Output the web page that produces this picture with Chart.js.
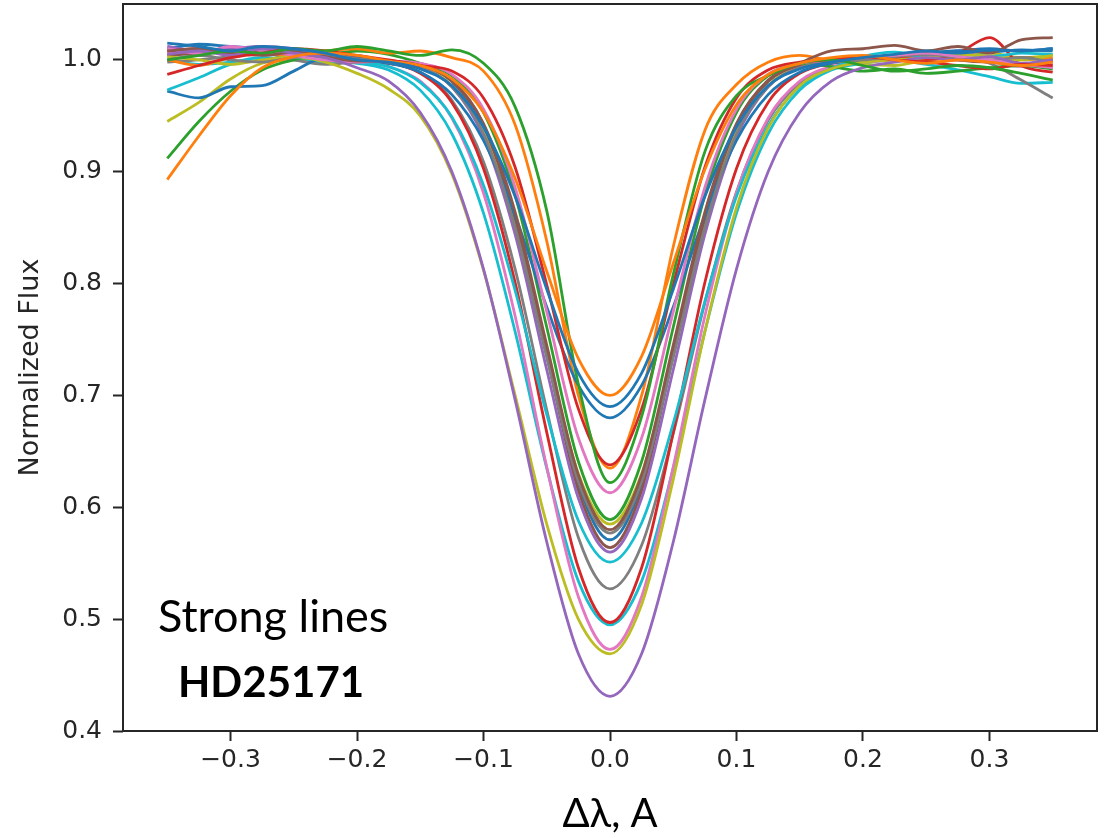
<!DOCTYPE html>
<html>
<head>
<meta charset="utf-8">
<script src="https://cdn.jsdelivr.net/npm/chart.js@4.4.1/dist/chart.umd.min.js"></script>
<style>
  html, body { margin: 0; padding: 0; background: #fff; }
  #wrap { width: 1107px; height: 838px; }
</style>
</head>
<body>
<div id="wrap"><canvas id="profiles" width="1107" height="838"></canvas></div>
<script>
// wavelength offset from line centre (A)
const deltaLambda = [-0.35,-0.325,-0.3,-0.275,-0.25,-0.225,-0.2,-0.175,-0.15,-0.125,-0.1,-0.075,-0.05,-0.025,0,
  0.025,0.05,0.075,0.1,0.125,0.15,0.175,0.2,0.225,0.25,0.275,0.3,0.325,0.35];

// normalized flux of each line profile
const blue069   = [1.015,1.012,1.008,1.012,1.010,1.006,1.000,0.998,0.992,0.977,0.940,0.878,0.795,0.720,0.690,0.720,0.795,0.878,0.940,0.977,0.992,0.998,1.002,1.005,1.008,1.006,1.009,1.008,1.010];
const orange070 = [0.893,0.932,0.968,0.993,1.003,1.006,1.004,0.999,0.995,0.983,0.953,0.894,0.811,0.733,0.700,0.735,0.818,0.902,0.960,0.987,0.997,1.002,1.004,1.000,0.997,1.000,0.998,0.995,0.998];
const green062  = [1.000,1.004,1.008,1.006,1.010,1.008,1.012,1.008,1.004,1.009,0.997,0.958,0.865,0.710,0.622,0.681,0.808,0.918,0.968,0.986,0.997,1.000,0.995,0.990,0.992,0.995,0.993,0.988,0.982];
const red064    = [0.987,0.995,1.002,1.006,1.010,1.008,1.004,1.000,0.995,0.990,0.966,0.904,0.799,0.688,0.638,0.688,0.799,0.904,0.966,0.991,0.998,1.000,1.003,1.000,0.998,0.995,0.992,0.996,0.995];
const purple043 = [1.005,1.008,1.004,1.010,1.006,1.002,0.993,0.981,0.953,0.900,0.813,0.696,0.569,0.469,0.431,0.469,0.569,0.696,0.813,0.900,0.953,0.981,0.993,0.998,1.002,1.000,1.003,0.997,1.000];
const brown058  = [1.008,1.010,1.006,1.004,1.007,1.003,0.999,0.999,0.995,0.982,0.943,0.864,0.745,0.629,0.580,0.629,0.745,0.864,0.943,0.982,0.997,1.008,1.010,1.013,1.008,1.012,1.006,1.018,1.020];
const pink061   = [1.010,1.006,1.012,1.008,1.004,1.000,0.998,0.999,0.997,0.987,0.956,0.886,0.775,0.662,0.613,0.662,0.775,0.886,0.956,0.987,0.997,1.000,1.002,1.004,1.006,1.003,1.000,0.996,0.993];
const grey058   = [1.000,1.004,1.000,0.998,1.002,1.004,1.001,0.998,0.993,0.976,0.934,0.850,0.734,0.623,0.577,0.623,0.734,0.850,0.934,0.976,0.993,0.998,1.000,1.003,1.005,1.002,1.000,1.002,0.998];
const olive047  = [1.003,1.000,0.996,1.000,1.003,0.998,0.988,0.974,0.950,0.898,0.812,0.700,0.585,0.500,0.469,0.513,0.625,0.757,0.868,0.939,0.977,0.992,0.998,1.000,1.002,1.005,1.003,1.000,1.004];
const cyan055   = [0.973,0.984,0.996,1.000,1.002,1.000,0.998,0.994,0.980,0.949,0.888,0.794,0.683,0.588,0.551,0.586,0.675,0.784,0.878,0.941,0.976,0.992,1.003,1.007,1.003,1.005,1.003,1.006,1.005];
const blue068   = [0.972,0.966,0.976,0.977,0.990,1.002,1.000,0.997,0.989,0.969,0.928,0.861,0.779,0.709,0.680,0.709,0.779,0.861,0.928,0.969,0.989,0.997,1.000,1.004,1.006,1.008,1.007,1.009,1.008];
const orange064 = [1.000,0.995,1.002,1.006,1.004,1.008,1.010,1.006,1.008,1.002,0.990,0.942,0.838,0.700,0.635,0.700,0.833,0.937,0.978,0.998,1.004,1.000,1.002,1.000,0.998,1.000,1.003,1.000,1.002];
const green059  = [0.912,0.945,0.972,0.991,1.000,1.004,1.008,1.005,0.997,0.986,0.953,0.879,0.761,0.641,0.589,0.641,0.761,0.879,0.953,0.986,0.997,0.994,0.990,0.992,0.988,0.990,0.993,0.995,0.992];
const red050    = [1.008,1.010,1.005,1.007,1.003,1.000,0.998,0.997,0.988,0.962,0.903,0.801,0.667,0.546,0.497,0.546,0.667,0.801,0.903,0.962,0.988,0.997,1.000,1.003,1.000,1.006,1.020,0.995,0.989];
const purple056 = [1.012,1.008,1.010,1.012,1.006,1.004,1.000,0.998,0.993,0.976,0.931,0.844,0.723,0.608,0.560,0.608,0.723,0.844,0.931,0.976,0.993,0.998,1.000,1.002,1.004,1.008,1.000,0.996,1.000];
const brown056  = [1.004,1.006,1.008,1.010,1.006,1.005,1.000,0.999,0.995,0.981,0.941,0.858,0.736,0.615,0.564,0.615,0.736,0.858,0.941,0.981,0.995,0.999,1.000,1.002,1.006,1.000,0.998,1.002,1.000];
const pink047   = [1.006,1.010,1.008,1.012,1.010,1.006,1.000,0.994,0.981,0.948,0.881,0.771,0.636,0.520,0.473,0.520,0.636,0.771,0.881,0.948,0.981,0.994,0.998,1.000,1.004,1.000,0.998,0.994,0.996];
const grey053   = [0.998,1.000,1.003,1.006,1.000,0.996,0.998,0.997,0.989,0.964,0.909,0.813,0.687,0.573,0.527,0.566,0.666,0.783,0.882,0.946,0.979,0.993,1.000,1.002,1.000,1.003,0.997,0.982,0.966];
const olive059  = [0.945,0.962,0.983,0.997,1.000,1.002,0.999,0.998,0.994,0.977,0.935,0.853,0.739,0.630,0.585,0.630,0.739,0.853,0.935,0.977,0.994,0.998,0.996,0.995,1.000,1.003,1.006,1.002,1.004];
const cyan050   = [1.000,0.996,0.998,1.002,1.000,0.998,0.997,0.991,0.973,0.934,0.863,0.757,0.635,0.534,0.495,0.534,0.635,0.757,0.863,0.934,0.973,0.991,0.997,1.000,0.996,0.991,0.985,0.979,0.980];
const blue057   = [1.010,1.014,1.012,1.010,1.008,1.006,1.002,0.999,0.995,0.981,0.942,0.861,0.740,0.621,0.571,0.621,0.740,0.861,0.942,0.981,0.995,0.999,1.000,1.004,1.006,1.008,1.010,1.008,1.010];

const xTicks = [-0.3, -0.2, -0.1, 0, 0.1, 0.2, 0.3];
const yTicks = [0.4, 0.5, 0.6, 0.7, 0.8, 0.9, 1.0];

// matplotlib default colour cycle, in plotting order
const tab10 = ['#1f77b4','#ff7f0e','#2ca02c','#d62728','#9467bd','#8c564b','#e377c2','#7f7f7f','#bcbd22','#17becf'];
const profiles = [blue069, orange070, green062, red064, purple043, brown058, pink061, grey058, olive047, cyan055,
  blue068, orange064, green059, red050, purple056, brown056, pink047, grey053, olive059, cyan050, blue057];

const ink = '#262626';

// axes box and the two text notes in the lower left
const frameAndNotes = {
  id: 'frameAndNotes',
  afterDraw(chart) {
    const { ctx, chartArea: a } = chart;
    ctx.save();
    ctx.strokeStyle = ink;
    ctx.lineWidth = 2;
    ctx.strokeRect(a.left, a.top, a.right - a.left, a.bottom - a.top);
    ctx.fillStyle = '#000';
    ctx.textBaseline = 'alphabetic';
    ctx.textAlign = 'left';
    ctx.font = '45px Lato';
    ctx.fillText('Strong lines', 158, 632);
    ctx.font = 'bold 42px Lato';
    ctx.fillText('HD25171', 178, 697);
    ctx.restore();
  }
};

// keep the plot box exactly where the reference has it
function noPad(s) {
  s.paddingTop = 0;
  s.paddingBottom = 0;
  s.paddingLeft = 0;
  s.paddingRight = 0;
}

new Chart(document.getElementById('profiles'), {
  type: 'line',
  data: {
    datasets: profiles.map((ys, i) => ({
      data: ys.map((y, k) => ({ x: deltaLambda[k], y: y })),
      borderColor: tab10[i % 10],
      borderWidth: 2.8,
      pointRadius: 0,
      fill: false,
      cubicInterpolationMode: 'monotone'
    }))
  },
  options: {
    responsive: false,
    devicePixelRatio: 1,
    animation: false,
    events: [],
    layout: { padding: { top: 4, right: 10, left: 0, bottom: 0 } },
    plugins: { legend: { display: false }, tooltip: { enabled: false } },
    scales: {
      x: {
        type: 'linear',
        min: -0.385,
        max: 0.385,
        afterFit(s) { s.height = 107; noPad(s); },
        afterBuildTicks(s) { s.ticks = xTicks.map(v => ({ value: v })); },
        ticks: {
          callback: v => v.toFixed(1).replace('-', '\u2212'),
          font: { family: 'DejaVu Sans', size: 25 },
          color: ink,
          padding: 4,
          maxRotation: 0,
          autoSkip: false
        },
        grid: { drawOnChartArea: false, tickLength: 10, tickWidth: 2, tickColor: ink },
        border: { display: false },
        title: {
          display: true,
          text: '\u0394\u03bb, A',
          font: { family: 'Lato', size: 40 },
          color: '#000',
          padding: { top: 0, bottom: 0 }
        }
      },
      y: {
        min: 0.4,
        max: 1.05,
        afterFit(s) { s.width = 123; noPad(s); },
        afterBuildTicks(s) { s.ticks = yTicks.map(v => ({ value: v })); },
        ticks: {
          callback: v => v.toFixed(1),
          font: { family: 'DejaVu Sans', size: 25 },
          color: ink,
          padding: 11
        },
        grid: { drawOnChartArea: false, tickLength: 10, tickWidth: 2, tickColor: ink },
        border: { display: false },
        title: {
          display: true,
          text: 'Normalized Flux',
          font: { family: 'DejaVu Sans', size: 27 },
          color: ink,
          padding: { top: 15, bottom: 0 }
        }
      }
    }
  },
  plugins: [frameAndNotes]
});
</script>
</body>
</html>
